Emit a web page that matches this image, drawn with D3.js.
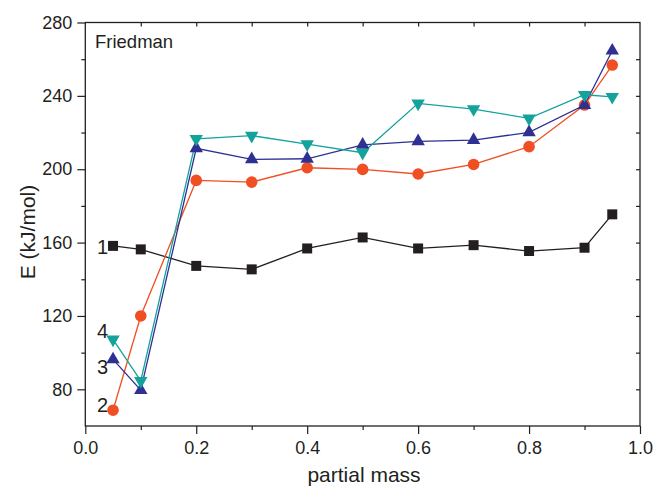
<!DOCTYPE html>
<html><head><meta charset="utf-8">
<script src="https://cdn.jsdelivr.net/npm/d3@7"></script>
<style>body{margin:0;background:#fff}svg{display:block}text{font-family:"Liberation Sans",Arial,sans-serif;fill:#231f20}</style>
</head><body><svg id="c" width="657" height="487"></svg>
<script>
const xVals = [0.05,0.1,0.2,0.3,0.4,0.5,0.6,0.7,0.8,0.9,0.95];
const s1 = [158.2,156.3,147.3,145.4,156.8,162.8,156.8,158.6,155.4,157.2,175.4];
const s2 = [68.6,120.0,193.9,193.0,200.8,199.9,197.4,202.6,212.3,235.0,256.8];
const s3 = [96.3,79.5,211.4,205.4,205.7,213.3,215.2,215.9,220.1,235.0,264.6];
const s4 = [107.2,84.6,216.6,218.3,213.7,209.0,235.9,232.8,227.7,240.6,239.5];
const seriesNames = ["1","2","3","4"];
const xTicks = [0.0,0.2,0.4,0.6,0.8,1.0];
const yTicks = [80,120,160,200,240,280];

const svg = d3.select("#c");
const L=85.3,R=640,T=22.5,B=426;
const x = d3.scaleLinear().domain([0,1]).range([L,R]);
const y = d3.scaleLinear().domain([60,280]).range([B,T]);
const ax = "#231f20";

svg.append("rect").attr("x",L).attr("y",T).attr("width",R-L).attr("height",B-T)
  .attr("fill","none").attr("stroke",ax).attr("stroke-width",1.3);

svg.append("g").attr("transform",`translate(0,${B})`)
  .call(d3.axisBottom(x).tickValues(xTicks).tickFormat(d3.format(".1f")).tickSize(8).tickPadding(7));
svg.append("g").attr("transform",`translate(0,${B})`)
  .call(d3.axisBottom(x).tickValues(d3.range(0.1,1,0.2)).tickFormat("").tickSize(4));
svg.append("g").attr("transform",`translate(0,${T})`)
  .call(d3.axisBottom(x).tickValues(d3.range(0.1,1,0.1)).tickFormat("").tickSize(4));
svg.append("g").attr("transform",`translate(${L},0)`)
  .call(d3.axisLeft(y).tickValues(yTicks).tickSize(8).tickPadding(5));
svg.append("g").attr("transform",`translate(${L},0)`)
  .call(d3.axisLeft(y).tickValues([100,140,180,220,260]).tickFormat("").tickSize(4));
svg.append("g").attr("transform",`translate(${R},0)`)
  .call(d3.axisLeft(y).tickValues(d3.range(80,280,20)).tickFormat("").tickSize(4));

svg.selectAll(".domain").remove();
svg.selectAll(".tick line").attr("stroke",ax).attr("stroke-width",1.2);
svg.selectAll(".tick text").attr("font-size",18).attr("font-family","Liberation Sans, Arial, sans-serif").attr("fill",ax);

svg.append("text").attr("x",364).attr("y",482).attr("text-anchor","middle").attr("font-size",21).text("partial mass");
svg.append("text").attr("transform",`translate(35,${232}) rotate(-90)`).attr("text-anchor","middle").attr("font-size",21).text("E (kJ/mol)");
svg.append("text").attr("x",95).attr("y",48).attr("font-size",18.5).text("Friedman");

const colors = ["#231f20","#f04e23","#2e3192","#13a39b"];
const data = [s1,s2,s3,s4];
const line = d3.line().x((d,i)=>x(xVals[i])).y(d=>y(d));
data.forEach((s,k)=>{
  svg.append("path").datum(s).attr("d",line).attr("fill","none").attr("stroke",colors[k]).attr("stroke-width",1.3);
});
const shapes = [d3.symbolSquare,d3.symbolCircle,d3.symbolTriangle,d3.symbolTriangle];
const sizes = [100,106,78,78];
data.forEach((s,k)=>{
  svg.append("g").selectAll("path").data(s).join("path")
    .attr("d",d3.symbol().type(shapes[k]).size(sizes[k]))
    .attr("transform",(d,i)=>`translate(${x(xVals[i])},${y(d)})${k===3?" rotate(180)":""}`)
    .attr("fill",colors[k]);
});
const labelDy = [8,2,15,-1];
data.forEach((s,k)=>{
  svg.append("text").attr("x",x(xVals[0])-5).attr("y",y(s[0])+labelDy[k])
    .attr("text-anchor","end").attr("font-size",20).text(seriesNames[k]);
});
</script></body></html>
